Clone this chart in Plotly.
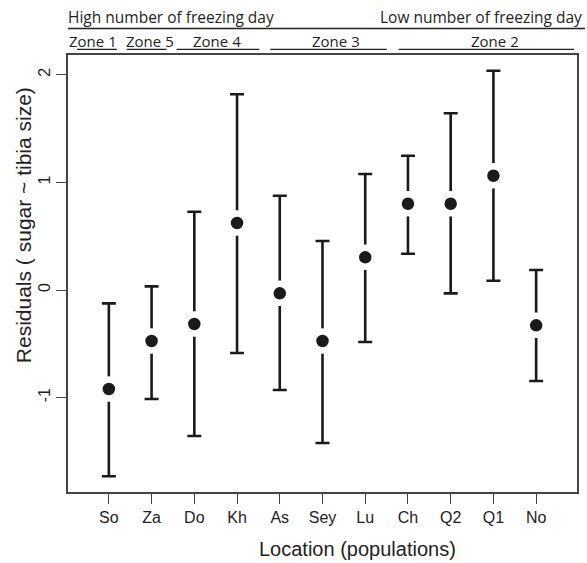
import plotly.graph_objects as go

# ---- data ----
populations = ["So", "Za", "Do", "Kh", "As", "Sey", "Lu", "Ch", "Q2", "Q1", "No"]
mean_resid = [-0.92, -0.474, -0.316, 0.623, -0.031, -0.474, 0.304, 0.802, 0.802, 1.062, -0.328]
upper_ci = [-0.124, 0.034, 0.728, 1.819, 0.876, 0.455, 1.078, 1.248, 1.642, 2.038, 0.186]
lower_ci = [-1.73, -1.013, -1.357, -0.585, -0.929, -1.422, -0.483, 0.337, -0.031, 0.086, -0.846]
y_ticks = [-1, 0, 1, 2]

W, H = 587, 563
L, R, T, B = 68, 579, 55, 492  # plot area in pixels

def px(x):
    return (x - L) / (R - L)

def py(y):
    return (B - y) / (B - T)

xs = list(range(len(populations)))
err_plus = [u - m for u, m in zip(upper_ci, mean_resid)]
err_minus = [m - l for m, l in zip(mean_resid, lower_ci)]

fig = go.Figure()
fig.add_trace(go.Scatter(
    x=xs, y=mean_resid, mode="markers",
    marker=dict(size=19, color="#1a1a1a", line=dict(color="white", width=6.5)),
    error_y=dict(type="data", symmetric=False, array=err_plus, arrayminus=err_minus,
                 color="#1a1a1a", thickness=2.6, width=7),
    showlegend=False, hoverinfo="skip",
))

ink = "#231f20"
hdr_font = dict(family="Open Sans", size=15.5, color=ink)
zone_font = dict(family="Open Sans", size=15, color=ink)
shapes = []
# main header line
shapes.append(dict(type="line", xref="paper", yref="paper", x0=px(68), x1=px(587),
                   y0=py(28.5), y1=py(28.5), line=dict(color=ink, width=1.3)))
# zone underlines
for x0, x1 in [(77, 117), (127, 167), (177, 260), (271, 388), (400, 576)]:
    shapes.append(dict(type="line", xref="paper", yref="paper", x0=px(x0), x1=px(x1),
                       y0=py(49.3), y1=py(49.3), line=dict(color=ink, width=1.3)))

annotations = [
    dict(text="High number of freezing day", x=px(66), y=py(17), xanchor="left", yanchor="middle", font=hdr_font),
    dict(text="Low number of freezing day", x=px(586), y=py(17), xanchor="right", yanchor="middle", font=hdr_font),
    dict(text="Zone 1", x=px(93.5), y=py(40.5), xanchor="center", yanchor="middle", font=zone_font),
    dict(text="Zone 5", x=px(150), y=py(40.5), xanchor="center", yanchor="middle", font=zone_font),
    dict(text="Zone 4", x=px(217.5), y=py(40.5), xanchor="center", yanchor="middle", font=zone_font),
    dict(text="Zone 3", x=px(337), y=py(40.5), xanchor="center", yanchor="middle", font=zone_font),
    dict(text="Zone 2", x=px(497), y=py(40.5), xanchor="center", yanchor="middle", font=zone_font),
]
for a in annotations:
    a.update(xref="paper", yref="paper", showarrow=False)

axis_font = dict(family="Liberation Sans, Arial", size=20, color="#222")
annotations.append(dict(text="Location (populations)", x=px(359), y=py(549), xref="paper", yref="paper",
                        xanchor="center", yanchor="middle", showarrow=False, font=axis_font))
annotations.append(dict(text="Residuals ( sugar ~ tibia size)", x=px(23), y=py(225), xref="paper", yref="paper",
                        xanchor="center", yanchor="middle", showarrow=False, textangle=-90,
                        font=dict(family="Liberation Sans, Arial", size=21, color="#222")))

fig.update_layout(
    width=W, height=H,
    margin=dict(l=L, r=W - R, t=T, b=H - B),
    plot_bgcolor="white", paper_bgcolor="white",
    shapes=shapes, annotations=annotations,
    xaxis=dict(range=[-0.956, 10.956], tickmode="array", tickvals=xs, ticktext=populations,
               showgrid=False, zeroline=False, showline=True, mirror=True, linecolor="#444", linewidth=1.5,
               ticks="outside", ticklen=10, tickcolor="#444", tickwidth=1.3,
               tickfont=dict(family="Liberation Sans, Arial", size=16, color="#222")),
    yaxis=dict(range=[-1.877, 2.184], tickmode="array", tickvals=y_ticks, ticktext=[str(v) for v in y_ticks],
               showgrid=False, zeroline=False, showline=True, mirror=True, linecolor="#444", linewidth=1.5,
               ticks="outside", ticklen=10, tickcolor="#444", tickwidth=1.3, tickangle=-90,
               tickfont=dict(family="Liberation Sans, Arial", size=16, color="#222")),
)

fig.write_html("out.html")
